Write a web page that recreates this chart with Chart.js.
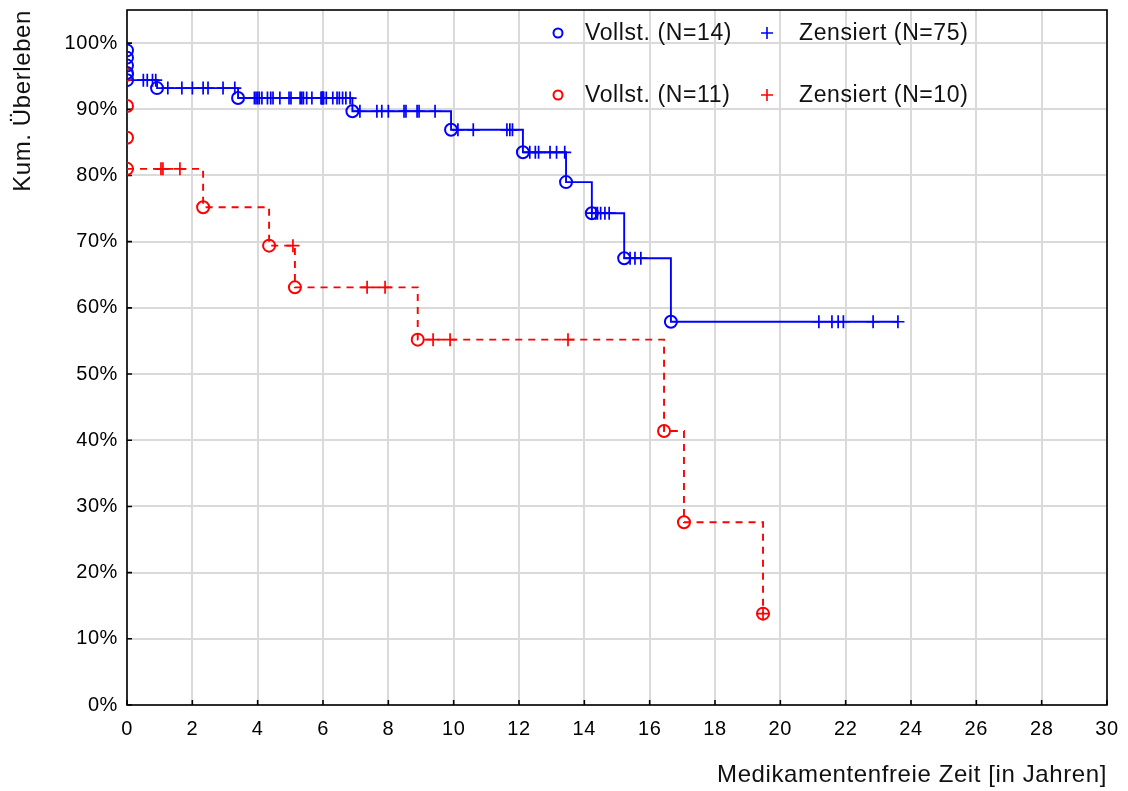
<!DOCTYPE html>
<html>
<head>
<meta charset="utf-8">
<script src="https://cdn.jsdelivr.net/npm/chart.js@4.4.1/dist/chart.umd.min.js"></script>
<style>
  html, body { margin: 0; padding: 0; background: #fff; }
  #wrap { width: 1128px; height: 791px; }
</style>
</head>
<body>
<div id="wrap"><canvas id="kmChart"></canvas></div>
<script>
// Gruppe blau: Ereignisse (vollständig) und zensierte Fälle
const blueEventTimes = [0, 0, 0, 0, 0, 0.92, 3.4, 6.9, 9.92, 12.12, 13.44, 14.23, 15.22, 16.65];
const blueEventSurv  = [98.9, 97.8, 96.6, 95.5, 94.4, 93.2, 91.7, 89.7, 86.9, 83.5, 79.0, 74.3, 67.5, 57.9];
const blueCensTimes = [
  0.5, 0.62, 0.78, 0.88,
  1.25, 1.68, 2.0, 2.33, 2.48, 2.94, 3.3,
  3.9, 3.95, 4.0, 4.05, 4.13, 4.3, 4.4, 4.47, 4.68, 4.96, 5.02, 5.3, 5.35, 5.4, 5.5,
  5.66, 5.94, 5.96, 5.98, 6.0, 6.02, 6.1, 6.3, 6.43, 6.5, 6.6, 6.7, 6.83,
  7.13, 7.65, 7.8, 8.0, 8.48, 8.54, 8.88, 8.94, 9.43,
  10.13, 10.6, 11.63, 11.72, 11.8,
  12.33, 12.5, 12.6, 12.95, 13.15, 13.4,
  14.23, 14.35, 14.4, 14.5, 14.63, 14.76,
  15.4, 15.55, 15.73,
  21.18, 21.58, 21.77, 21.93, 22.84, 23.6
];
const blueEnd = 23.6;

// Gruppe rot
const redEventTimes = [0, 0, 0, 0, 2.33, 4.35, 5.14, 8.9, 16.44, 17.05, 19.47];
const redEventSurv  = [95.2, 90.5, 85.7, 81.0, 75.2, 69.4, 63.1, 55.2, 41.4, 27.6, 13.8];
const redCensTimes = [1.04, 1.1, 1.62, 5.08, 7.35, 7.9, 9.37, 9.89, 13.5, 19.47];
const redEnd = 19.47;

const xTicks = [0, 2, 4, 6, 8, 10, 12, 14, 16, 18, 20, 22, 24, 26, 28, 30];
const yTicks = [0, 10, 20, 30, 40, 50, 60, 70, 80, 90, 100];

const legendRows = [
  { color: '#0000ff', events: 'Vollst. (N=14)', censored: 'Zensiert (N=75)' },
  { color: '#ff0000', events: 'Vollst. (N=11)', censored: 'Zensiert (N=10)' }
];

const FONT = '"Liberation Sans", Arial, Helvetica, sans-serif';
const SPACING = '0.6px';

// Überlebenswert der Stufenfunktion zu einem Zeitpunkt
function survAt(t, times, surv) {
  let s = 100;
  for (let i = 0; i < times.length; i++) {
    if (times[i] <= t) s = surv[i];
  }
  return s;
}

function curve(times, surv, end) {
  const pts = [{ x: 0, y: survAt(0, times, surv) }];
  times.forEach((t, i) => { if (t > 0) pts.push({ x: t, y: surv[i] }); });
  pts.push({ x: end, y: survAt(end, times, surv) });
  return pts;
}

const blueEvents = blueEventTimes.map((t, i) => ({ x: t, y: blueEventSurv[i] }));
const blueCens = blueCensTimes.map(t => ({ x: t, y: survAt(t, blueEventTimes, blueEventSurv) }));
const redEvents = redEventTimes.map((t, i) => ({ x: t, y: redEventSurv[i] }));
const redCens = redCensTimes.map(t => ({ x: t, y: survAt(t, redEventTimes, redEventSurv) }));

const spacingPlugin = {
  id: 'spacing',
  beforeUpdate(chart) { chart.ctx.letterSpacing = SPACING; },
  beforeDraw(chart) { chart.ctx.letterSpacing = SPACING; }
};

const framePlugin = {
  id: 'frame',
  beforeDatasetsDraw(chart) {
    const { ctx, chartArea: a, scales } = chart;
    ctx.save();
    ctx.strokeStyle = '#000';
    ctx.lineWidth = 1.6;
    ctx.strokeRect(a.left, a.top, a.right - a.left, a.bottom - a.top);
    ctx.beginPath();
    xTicks.forEach(v => {
      const px = scales.x.getPixelForValue(v);
      ctx.moveTo(px, a.bottom);
      ctx.lineTo(px, a.bottom - 5);
    });
    yTicks.forEach(v => {
      const py = scales.y.getPixelForValue(v);
      ctx.moveTo(a.left, py);
      ctx.lineTo(a.left + 5, py);
    });
    ctx.stroke();
    ctx.restore();
  }
};

const legendPlugin = {
  id: 'kmLegend',
  afterDraw(chart) {
    const ctx = chart.ctx;
    const rowY = [33, 95];
    ctx.save();
    ctx.letterSpacing = SPACING;
    ctx.font = '23px ' + FONT;
    ctx.textBaseline = 'middle';
    ctx.textAlign = 'left';
    legendRows.forEach((row, i) => {
      const y = rowY[i];
      ctx.strokeStyle = row.color;
      ctx.lineWidth = 2;
      ctx.beginPath();
      ctx.arc(558, y, 4.5, 0, Math.PI * 2);
      ctx.stroke();
      ctx.lineWidth = 1.6;
      ctx.beginPath();
      ctx.moveTo(761, y); ctx.lineTo(773, y);
      ctx.moveTo(767, y - 6); ctx.lineTo(767, y + 6);
      ctx.stroke();
      ctx.fillStyle = '#111';
      ctx.fillText(row.events, 585, y + 1);
      ctx.fillText(row.censored, 799, y + 1);
    });
    ctx.restore();
  }
};

const ctx = document.getElementById('kmChart');

new Chart(ctx, {
  type: 'scatter',
  data: {
    datasets: [
      { data: blueEvents, pointStyle: 'circle', pointRadius: 6, borderColor: '#0000ff',
        backgroundColor: 'rgba(0,0,0,0)', borderWidth: 2 },
      { data: blueCens, pointStyle: 'cross', pointRadius: 6.5, borderColor: '#0000ff', borderWidth: 1.7 },
      { data: redEvents, pointStyle: 'circle', pointRadius: 6, borderColor: '#ff0000',
        backgroundColor: 'rgba(0,0,0,0)', borderWidth: 2 },
      { data: redCens, pointStyle: 'cross', pointRadius: 6.5, borderColor: '#ff0000', borderWidth: 1.7 },
      { type: 'line', data: curve(blueEventTimes, blueEventSurv, blueEnd), borderColor: '#0000ff',
        borderWidth: 1.9, stepped: true, pointRadius: 0, fill: false },
      { type: 'line', data: curve(redEventTimes, redEventSurv, redEnd), borderColor: '#ff0000',
        borderWidth: 1.9, borderDash: [7, 6], stepped: true, pointRadius: 0, fill: false }
    ]
  },
  options: {
    responsive: true,
    maintainAspectRatio: false,
    animation: false,
    layout: { padding: { top: 10, right: 21, left: 0, bottom: 0 } },
    plugins: { legend: { display: false }, tooltip: { enabled: false } },
    scales: {
      x: {
        type: 'linear',
        min: 0,
        max: 30,
        afterBuildTicks: s => { s.ticks = xTicks.map(v => ({ value: v })); },
        afterFit: s => { s.height = 86; s.paddingLeft = 0; s.paddingRight = 0; },
        grid: { color: '#dadada', lineWidth: 2, drawTicks: false },
        border: { display: false },
        ticks: { color: '#000', padding: 12, maxRotation: 0, autoSkip: false, font: { family: FONT, size: 20 } },
        title: {
          display: true,
          text: 'Medikamentenfreie Zeit [in Jahren]',
          align: 'end',
          color: '#111',
          font: { family: FONT, size: 24 },
          padding: { top: 0, bottom: 1 }
        }
      },
      y: {
        min: 0,
        max: 105,
        afterBuildTicks: s => { s.ticks = yTicks.map(v => ({ value: v })); },
        afterFit: s => { s.width = 127; s.paddingTop = 0; s.paddingBottom = 0; },
        grid: { color: '#dadada', lineWidth: 2, drawTicks: false },
        border: { display: false },
        ticks: { color: '#000', padding: 9, font: { family: FONT, size: 20 }, callback: v => v + '%' },
        title: {
          display: true,
          text: 'Kum. Überleben',
          align: 'end',
          color: '#111',
          font: { family: FONT, size: 24 },
          padding: { top: 9, bottom: 0 }
        }
      }
    }
  },
  plugins: [spacingPlugin, framePlugin, legendPlugin]
});
</script>
</body>
</html>
